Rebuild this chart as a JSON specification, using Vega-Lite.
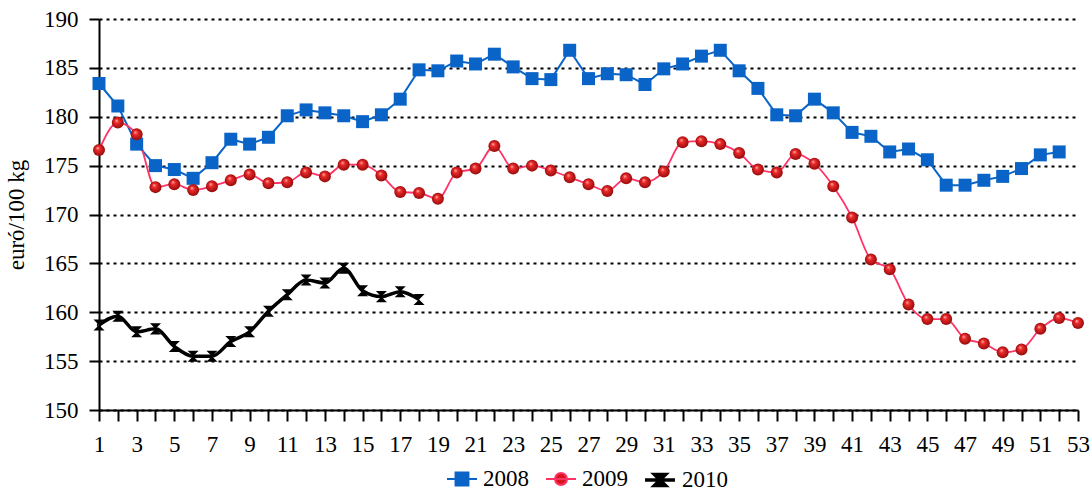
{
  "$schema": "https://vega.github.io/schema/vega-lite/v6.json",
  "width": 979,
  "height": 391,
  "autosize": "none",
  "padding": {"left": 99, "top": 19, "right": 13, "bottom": 81},
  "background": "white",
  "config": {"view": {"stroke": null}, "font": "Liberation Serif"},
  "data": {"values": [
    {"week":1,"series":"2008","value":183.4},{"week":2,"series":"2008","value":181.1},{"week":3,"series":"2008","value":177.2},{"week":4,"series":"2008","value":175.0},{"week":5,"series":"2008","value":174.6},{"week":6,"series":"2008","value":173.7},{"week":7,"series":"2008","value":175.3},{"week":8,"series":"2008","value":177.7},{"week":9,"series":"2008","value":177.2},{"week":10,"series":"2008","value":177.9},{"week":11,"series":"2008","value":180.1},{"week":12,"series":"2008","value":180.7},{"week":13,"series":"2008","value":180.4},{"week":14,"series":"2008","value":180.1},{"week":15,"series":"2008","value":179.5},{"week":16,"series":"2008","value":180.2},{"week":17,"series":"2008","value":181.8},{"week":18,"series":"2008","value":184.8},{"week":19,"series":"2008","value":184.7},{"week":20,"series":"2008","value":185.7},{"week":21,"series":"2008","value":185.4},{"week":22,"series":"2008","value":186.4},{"week":23,"series":"2008","value":185.1},{"week":24,"series":"2008","value":183.9},{"week":25,"series":"2008","value":183.8},{"week":26,"series":"2008","value":186.8},{"week":27,"series":"2008","value":183.9},{"week":28,"series":"2008","value":184.4},{"week":29,"series":"2008","value":184.3},{"week":30,"series":"2008","value":183.3},{"week":31,"series":"2008","value":184.9},{"week":32,"series":"2008","value":185.4},{"week":33,"series":"2008","value":186.2},{"week":34,"series":"2008","value":186.8},{"week":35,"series":"2008","value":184.7},{"week":36,"series":"2008","value":182.9},{"week":37,"series":"2008","value":180.2},{"week":38,"series":"2008","value":180.1},{"week":39,"series":"2008","value":181.8},{"week":40,"series":"2008","value":180.4},{"week":41,"series":"2008","value":178.4},{"week":42,"series":"2008","value":178.0},{"week":43,"series":"2008","value":176.4},{"week":44,"series":"2008","value":176.7},{"week":45,"series":"2008","value":175.6},{"week":46,"series":"2008","value":173.0},{"week":47,"series":"2008","value":173.0},{"week":48,"series":"2008","value":173.5},{"week":49,"series":"2008","value":173.9},{"week":50,"series":"2008","value":174.7},{"week":51,"series":"2008","value":176.1},{"week":52,"series":"2008","value":176.4},
    {"week":1,"series":"2009","value":176.6},{"week":2,"series":"2009","value":179.4},{"week":3,"series":"2009","value":178.2},{"week":4,"series":"2009","value":172.8},{"week":5,"series":"2009","value":173.1},{"week":6,"series":"2009","value":172.5},{"week":7,"series":"2009","value":172.9},{"week":8,"series":"2009","value":173.5},{"week":9,"series":"2009","value":174.1},{"week":10,"series":"2009","value":173.2},{"week":11,"series":"2009","value":173.3},{"week":12,"series":"2009","value":174.3},{"week":13,"series":"2009","value":173.9},{"week":14,"series":"2009","value":175.1},{"week":15,"series":"2009","value":175.1},{"week":16,"series":"2009","value":174.0},{"week":17,"series":"2009","value":172.3},{"week":18,"series":"2009","value":172.2},{"week":19,"series":"2009","value":171.6},{"week":20,"series":"2009","value":174.3},{"week":21,"series":"2009","value":174.7},{"week":22,"series":"2009","value":177.0},{"week":23,"series":"2009","value":174.7},{"week":24,"series":"2009","value":175.0},{"week":25,"series":"2009","value":174.5},{"week":26,"series":"2009","value":173.8},{"week":27,"series":"2009","value":173.1},{"week":28,"series":"2009","value":172.4},{"week":29,"series":"2009","value":173.7},{"week":30,"series":"2009","value":173.3},{"week":31,"series":"2009","value":174.4},{"week":32,"series":"2009","value":177.4},{"week":33,"series":"2009","value":177.5},{"week":34,"series":"2009","value":177.2},{"week":35,"series":"2009","value":176.3},{"week":36,"series":"2009","value":174.6},{"week":37,"series":"2009","value":174.3},{"week":38,"series":"2009","value":176.2},{"week":39,"series":"2009","value":175.2},{"week":40,"series":"2009","value":172.9},{"week":41,"series":"2009","value":169.7},{"week":42,"series":"2009","value":165.4},{"week":43,"series":"2009","value":164.4},{"week":44,"series":"2009","value":160.8},{"week":45,"series":"2009","value":159.3},{"week":46,"series":"2009","value":159.3},{"week":47,"series":"2009","value":157.3},{"week":48,"series":"2009","value":156.8},{"week":49,"series":"2009","value":155.9},{"week":50,"series":"2009","value":156.2},{"week":51,"series":"2009","value":158.3},{"week":52,"series":"2009","value":159.4},{"week":53,"series":"2009","value":158.9},
    {"week":1,"series":"2010","value":158.7},{"week":2,"series":"2010","value":159.6},{"week":3,"series":"2010","value":158.0},{"week":4,"series":"2010","value":158.3},{"week":5,"series":"2010","value":156.5},{"week":6,"series":"2010","value":155.5},{"week":7,"series":"2010","value":155.5},{"week":8,"series":"2010","value":157.0},{"week":9,"series":"2010","value":158.0},{"week":10,"series":"2010","value":160.1},{"week":11,"series":"2010","value":161.8},{"week":12,"series":"2010","value":163.3},{"week":13,"series":"2010","value":163.0},{"week":14,"series":"2010","value":164.5},{"week":15,"series":"2010","value":162.2},{"week":16,"series":"2010","value":161.6},{"week":17,"series":"2010","value":162.1},{"week":18,"series":"2010","value":161.3}
  ]},
  "encoding": {
    "x": {
      "field": "week", "type": "quantitative",
      "scale": {"domain": [1, 53], "nice": false, "zero": false},
      "axis": {
        "title": null,
        "values": [1,2,3,4,5,6,7,8,9,10,11,12,13,14,15,16,17,18,19,20,21,22,23,24,25,26,27,28,29,30,31,32,33,34,35,36,37,38,39,40,41,42,43,44,45,46,47,48,49,50,51,52,53],
        "labelExpr": "datum.value % 2 === 1 ? datum.label : ''",
        "grid": false,
        "domainColor": "black", "domainWidth": 2,
        "tickColor": "black", "tickWidth": 2, "tickSize": 11,
        "labelFontSize": 23, "labelColor": "black", "labelPadding": 12,
        "labelFlush": false, "labelOverlap": false, "labelFont": "Liberation Serif"
      }
    },
    "y": {
      "field": "value", "type": "quantitative",
      "scale": {"domain": [150, 190], "nice": false, "zero": false},
      "axis": {
        "title": "euró/100 kg",
        "values": [150,155,160,165,170,175,180,185,190],
        "grid": true, "gridColor": "black", "gridDash": [3, 4], "gridWidth": 2,
        "domainColor": "black", "domainWidth": 2,
        "tickColor": "black", "tickWidth": 2, "tickSize": 10,
        "labelFontSize": 23, "labelColor": "black", "labelPadding": 11, "labelFont": "Liberation Serif",
        "titleFontSize": 23, "titleFontWeight": "normal", "titleColor": "black", "titlePadding": 15, "titleFont": "Liberation Serif"
      }
    }
  },
  "layer": [
    {
      "transform": [{"filter": "datum.week === 1 && datum.series === '2008'"}],
      "mark": {"type": "point", "filled": true, "size": 1, "opacity": 1, "stroke": "#0a64c8", "strokeWidth": 2},
      "encoding": {
        "fill": {
          "field": "series", "type": "nominal",
          "scale": {"domain": ["2008"], "range": ["#0a64c8"]},
          "legend": {
            "orient": "none", "legendX": 347, "legendY": 444, "title": null,
            "labelFontSize": 23, "labelFont": "Liberation Serif", "labelColor": "black",
            "symbolSize": 900, "labelOffset": 5, "padding": 0,
            "symbolType": "M-1,0H1M-0.43,-0.43H0.43V0.43H-0.43Z",
            "symbolStrokeColor": "#0a64c8", "symbolStrokeWidth": 2, "symbolOpacity": 1
          }
        }
      }
    },
    {
      "transform": [{"filter": "datum.week === 1 && datum.series === '2009'"}],
      "mark": {"type": "point", "filled": true, "size": 1, "opacity": 1, "fill": "#d8141e", "strokeWidth": 2},
      "encoding": {
        "stroke": {
          "field": "series", "type": "nominal",
          "scale": {"domain": ["2009"], "range": ["#ff3366"]},
          "legend": {
            "orient": "none", "legendX": 446, "legendY": 444, "title": null,
            "labelFontSize": 23, "labelFont": "Liberation Serif", "labelColor": "black",
            "symbolSize": 900, "labelOffset": 5, "padding": 0,
            "symbolType": "M-1,0H1M0.4,0A0.4,0.4,0,1,1,-0.4,0A0.4,0.4,0,1,1,0.4,0Z",
            "symbolFillColor": "#d8141e", "symbolStrokeWidth": 2, "symbolOpacity": 1
          }
        }
      }
    },
    {
      "transform": [{"filter": "datum.week === 1 && datum.series === '2010'"}],
      "mark": {"type": "point", "filled": true, "size": 1, "opacity": 1, "stroke": "#000000", "strokeWidth": 3.5},
      "encoding": {
        "color": {
          "field": "series", "type": "nominal",
          "scale": {"domain": ["2010"], "range": ["#000000"]},
          "legend": {
            "orient": "none", "legendX": 544, "legendY": 444, "title": null,
            "labelFontSize": 23, "labelFont": "Liberation Serif", "labelColor": "black",
            "symbolSize": 900, "labelOffset": 5, "padding": 0,
            "symbolType": "M-1,0H1M-0.37,-0.37L0.37,-0.37L-0.37,0.37L0.37,0.37Z",
            "symbolStrokeColor": "#000000", "symbolStrokeWidth": 3.5, "symbolOpacity": 1
          }
        }
      }
    },
    {"transform": [{"filter": "datum.series === '2008'"}], "mark": {"type": "line", "color": "#0a64c8", "strokeWidth": 2}},
    {"transform": [{"filter": "datum.series === '2009'"}], "mark": {"type": "line", "color": "#ff3366", "strokeWidth": 1.8, "interpolate": "monotone"}},
    {"transform": [{"filter": "datum.series === '2010'"}], "mark": {"type": "line", "color": "#000000", "strokeWidth": 3.5, "interpolate": "monotone"}},
    {"transform": [{"filter": "datum.series === '2008'"}], "mark": {"type": "point", "shape": "square", "size": 169, "filled": true, "opacity": 1, "color": "#0a64c8"}},
    {"transform": [{"filter": "datum.series === '2010'"}], "mark": {"type": "point", "shape": "M-0.85,-0.85L0.85,-0.85L-0.85,0.85L0.85,0.85Z", "size": 169, "filled": true, "opacity": 1, "color": "#000000"}},
    {
      "transform": [{"filter": "datum.series === '2009'"}],
      "mark": {"type": "point", "shape": "circle", "size": 144, "filled": true, "opacity": 1,
        "fill": {"gradient": "radial", "x1": 0.38, "y1": 0.32, "r1": 0, "x2": 0.5, "y2": 0.5, "r2": 0.55,
          "stops": [{"offset": 0, "color": "#ffc0c0"}, {"offset": 0.3, "color": "#ee2a2a"}, {"offset": 1, "color": "#8c0808"}]}}
    }
  ]
}
